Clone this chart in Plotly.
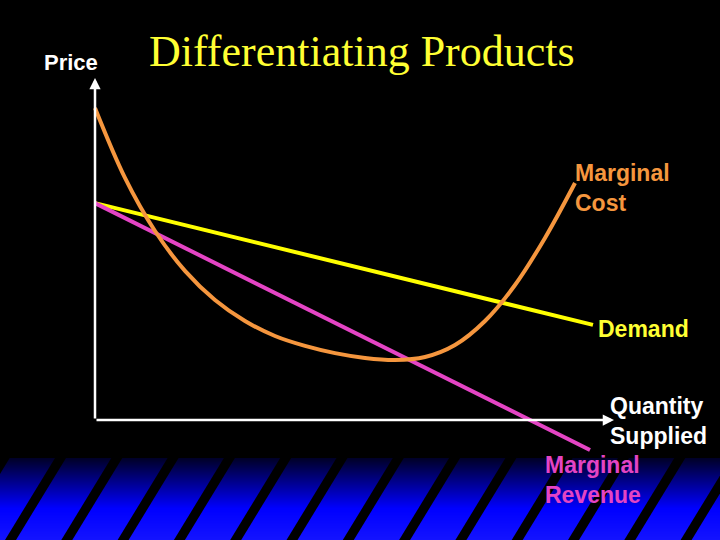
import plotly.graph_objects as go

# ---- data (quantity units, price units) ----
demand_q = [0.0, 9.96]
demand_p = [7.23, 3.17]

mr_q = [0.0, 9.9]
mr_p = [7.23, -1.0]

mc_q = [0.0, 0.6, 1.2, 1.8, 2.4, 3.0, 3.6, 4.2, 4.8, 5.4, 6.0, 6.6, 7.2, 7.8, 8.4, 9.0, 9.6]
mc_p = [10.40, 8.07, 6.30, 4.97, 4.00, 3.30, 2.80, 2.47, 2.23, 2.07, 2.00, 2.10,
        2.50, 3.30, 4.50, 6.07, 7.90]

axis_x_end = 10.38
axis_y_end = 11.4

title_text = "Differentiating Products"
W, H = 720, 540

def px(x):
    return x / W

def py(y):
    return 1 - y / H

fig = go.Figure()

fig.add_trace(go.Scatter(x=demand_q, y=demand_p, mode="lines",
                         line=dict(color="#FFFF00", width=4), hoverinfo="skip"))
fig.add_trace(go.Scatter(x=mr_q, y=mr_p, mode="lines",
                         line=dict(color="#E444C4", width=4), hoverinfo="skip"))
fig.add_trace(go.Scatter(x=mc_q, y=mc_p, mode="lines",
                         line=dict(color="#F5963E", width=4, shape="spline", smoothing=1.0),
                         hoverinfo="skip"))

shapes = []
# gradient band at bottom
top, bottom = 458, 540
for i in range(top, bottom):
    t = min(1.0, (i - top) / 50.0)
    t2 = max(0.0, (i - top - 50) / 32.0)
    r = int(0 + 20 * t2)
    g = int(0 + 20 * t2)
    b = int(40 + 215 * t)
    shapes.append(dict(type="rect", xref="paper", yref="paper", x0=0, x1=1,
                       y0=py(i + 1), y1=py(i), line=dict(width=0),
                       fillcolor=f"rgb({r},{g},{b})", layer="below"))
# diagonal stripes
spacing = 56.3
shift = 50.0
sw = 11.0
k = -1
while True:
    x_top = 55 + k * spacing
    if x_top - shift > W:
        break
    path = (f"M {px(x_top)} {py(top)} L {px(x_top + sw)} {py(top)} "
            f"L {px(x_top + sw - shift)} {py(bottom)} L {px(x_top - shift)} {py(bottom)} Z")
    shapes.append(dict(type="path", xref="paper", yref="paper", path=path,
                       fillcolor="black", line=dict(width=0), layer="below"))
    k += 1

annotations = [
    # axes with arrows
    dict(x=0, y=axis_y_end, ax=0, ay=0, xref="x", yref="y", axref="x", ayref="y",
         text="", showarrow=True, arrowhead=2, arrowsize=0.9, arrowwidth=2.5,
         arrowcolor="white"),
    dict(x=axis_x_end, y=0, ax=0, ay=0, xref="x", yref="y", axref="x", ayref="y",
         text="", showarrow=True, arrowhead=2, arrowsize=0.9, arrowwidth=2.5,
         arrowcolor="white"),
    dict(x=px(147), y=py(51), xref="paper", yref="paper", xanchor="left", yanchor="middle",
         text=title_text, showarrow=False,
         font=dict(family="Liberation Serif, Times New Roman, serif", size=44, color="#FFFF33")),
    dict(x=px(71), y=py(62), xref="paper", yref="paper", xanchor="center", yanchor="middle",
         text="<b>Price</b>", showarrow=False,
         font=dict(family="Liberation Sans, Arial, sans-serif", size=22, color="white")),
    dict(x=px(573), y=py(188), xref="paper", yref="paper", xanchor="left", yanchor="middle",
         text="<b>Marginal</b><br><b>Cost</b>", showarrow=False, align="left",
         font=dict(family="Liberation Sans, Arial, sans-serif", size=23, color="#F5963E")),
    dict(x=px(596), y=py(329), xref="paper", yref="paper", xanchor="left", yanchor="middle",
         text="<b>Demand</b>", showarrow=False, align="left",
         font=dict(family="Liberation Sans, Arial, sans-serif", size=23, color="#FFFF33")),
    dict(x=px(608), y=py(421), xref="paper", yref="paper", xanchor="left", yanchor="middle",
         text="<b>Quantity</b><br><b>Supplied</b>", showarrow=False, align="left",
         font=dict(family="Liberation Sans, Arial, sans-serif", size=23, color="white")),
    dict(x=px(543), y=py(480), xref="paper", yref="paper", xanchor="left", yanchor="middle",
         text="<b>Marginal</b><br><b>Revenue</b>", showarrow=False, align="left",
         font=dict(family="Liberation Sans, Arial, sans-serif", size=23, color="#E444C4")),
]

fig.update_layout(
    width=W, height=H, margin=dict(l=0, r=0, t=0, b=0),
    paper_bgcolor="black", plot_bgcolor="black", showlegend=False,
    xaxis=dict(range=[-1.9, 12.5], visible=False, fixedrange=True),
    yaxis=dict(range=[-4, 14], visible=False, fixedrange=True),
    shapes=shapes, annotations=annotations,
)

fig.write_html("out.html")
